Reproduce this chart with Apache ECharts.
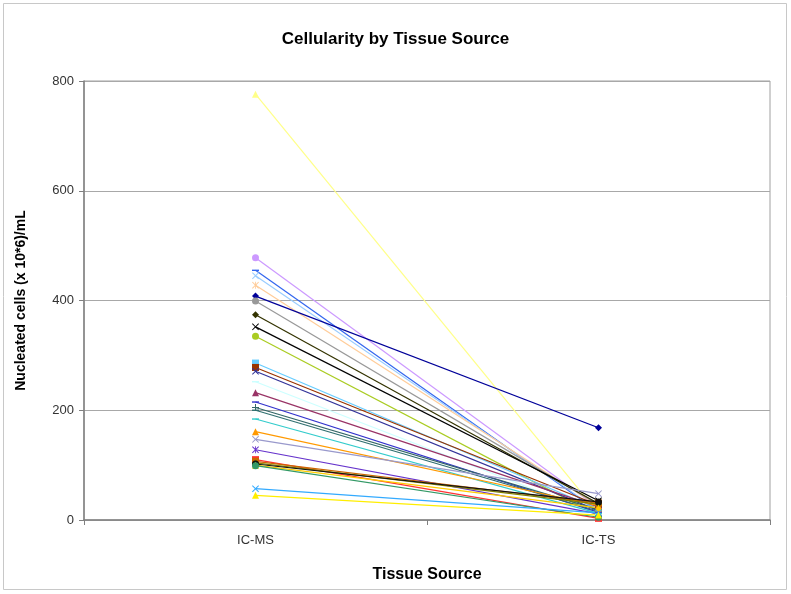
<!DOCTYPE html>
<html>
<head>
  <meta charset="utf-8">
  <title>Cellularity by Tissue Source</title>
  <script src="https://cdn.jsdelivr.net/npm/echarts@6/dist/echarts.min.js"></script>
  <style>
    body { margin: 0; padding: 0; background: #fff; }
    #main { width: 791px; height: 594px; }
  </style>
</head>
<body>
<div id="main"></div>
<script>
// categories on the x axis
const categories = ['IC-MS', 'IC-TS'];

// values per sample: [IC-MS, IC-TS]
const msValues = [776, 478, 455, 445, 428, 408, 399, 374, 352, 335,
                  286, 278, 271, 252, 232, 215, 205, 200, 184, 161,
                  147, 128, 110, 107, 104, 102, 100, 99, 57, 45];
const tsValues = [12, 22, 15, 18, 25, 168, 28, 30, 35, 8,
                  20, 27, 17, 10, 24, 14, 19, 16, 12, 26,
                  48, 11, 3, 31, 29, 33, 22, 5, 13, 9];

const yTicks = [0, 200, 400, 600, 800];

// marker shapes
const X = 'path://M0,1L1,0L5,4L9,0L10,1L6,5L10,9L9,10L5,6L1,10L0,9L4,5Z';
const PLUS = 'path://M4.3,0H5.7V4.3H10V5.7H5.7V10H4.3V5.7H0V4.3H4.3Z';
const STAR = 'path://M0,1L1,0L5,4L9,0L10,1L6,5L10,9L9,10L5,6L1,10L0,9L4,5ZM4.4,0H5.6V10H4.4Z';
const DASH = 'path://M0,4H10V6H0Z';

const colors = ['#ffff88', '#cc99ff', '#3366ee', '#99ccff', '#ffcc99', '#000099', '#999999', '#333300', '#000000', '#aacc22',
                '#66ccff', '#993300', '#333399', '#ccffff', '#993366', '#3333cc', '#336666', '#2f6f6f', '#33cccc', '#ff9900',
                '#9999cc', '#6633cc', '#ff3333', '#cc6600', '#808000', '#111111', '#ffcc00', '#339966', '#33aaff', '#ffee00'];
const symbols = ['triangle', 'circle', DASH, X, STAR, 'diamond', 'circle', 'diamond', X, 'circle',
                 'rect', 'rect', X, DASH, 'triangle', DASH, PLUS, DASH, DASH, 'triangle',
                 X, STAR, 'rect', 'rect', 'diamond', 'circle', 'triangle', 'circle', X, 'triangle'];

const series = msValues.map((v, i) => ({
  name: 'S' + (i + 1),
  type: 'line',
  data: [v, tsValues[i]],
  symbol: symbols[i],
  symbolSize: 7,
  symbolKeepAspect: true,
  lineStyle: { width: 1.2, color: colors[i] },
  itemStyle: { color: colors[i] },
  animation: false
}));

const chart = echarts.init(document.getElementById('main'));
chart.setOption({
  backgroundColor: '#fff',
  title: {
    text: 'Cellularity by Tissue Source',
    left: 'center',
    top: 26,
    textStyle: { fontFamily: 'Liberation Sans', fontSize: 17, fontWeight: 'bold', color: '#000' }
  },
  graphic: [{
    type: 'rect',
    shape: { x: 3.5, y: 3.5, width: 783, height: 586 },
    style: { fill: 'none', stroke: '#c8c8c8', lineWidth: 1 },
    silent: true
  }, {
    type: 'rect',
    shape: { x: 84, y: 81, width: 686, height: 439 },
    style: { fill: 'none', stroke: '#a0a0a0', lineWidth: 1 },
    silent: true,
    z: -1
  }],
  grid: { left: 84, right: 21, top: 81, bottom: 74 },
  xAxis: {
    type: 'category',
    data: categories,
    boundaryGap: true,
    name: 'Tissue Source',
    nameLocation: 'middle',
    nameGap: 47,
    nameTextStyle: { fontFamily: 'Liberation Sans', fontSize: 16, fontWeight: 'bold', color: '#000' },
    axisLine: { lineStyle: { color: '#808080', width: 1.5 } },
    axisTick: { show: true, length: 5, lineStyle: { color: '#808080' } },
    axisLabel: { fontFamily: 'Liberation Sans', fontSize: 13, color: '#333', margin: 14 }
  },
  yAxis: {
    type: 'value',
    min: yTicks[0],
    max: yTicks[yTicks.length - 1],
    interval: 200,
    name: 'Nucleated cells (x 10*6)/mL',
    nameLocation: 'middle',
    nameGap: 56,
    nameTextStyle: { fontFamily: 'Liberation Sans', fontSize: 14, fontWeight: 'bold', color: '#000' },
    axisLine: { show: true, lineStyle: { color: '#808080', width: 1.5 } },
    axisTick: { show: true, length: 5, lineStyle: { color: '#808080' } },
    axisLabel: { fontFamily: 'Liberation Sans', fontSize: 13, color: '#333', margin: 10 },
    splitLine: { lineStyle: { color: '#a8a8a8', width: 1 } }
  },
  series: series
});
</script>
</body>
</html>
